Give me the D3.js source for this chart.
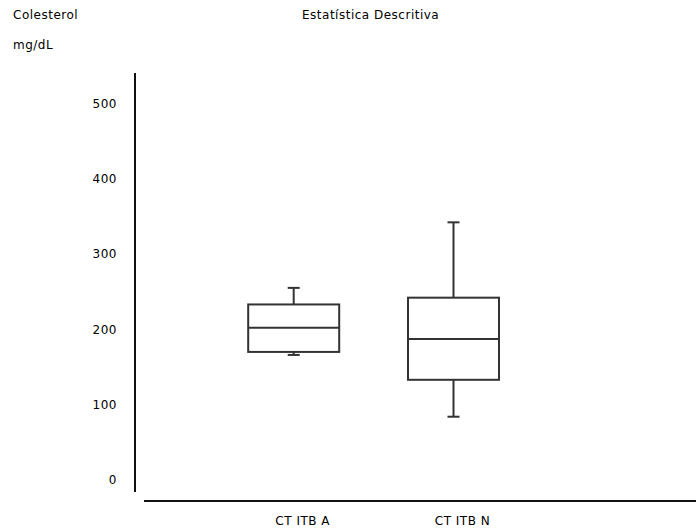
<!DOCTYPE html>
<html>
<head>
<meta charset="utf-8">
<script src="https://cdn.jsdelivr.net/npm/d3@7"></script>
<style>
  body { margin: 0; background: #fff; }
  text { font-family: "DejaVu Sans", sans-serif; font-size: 12px; letter-spacing: 0.5px; fill: #000; }
</style>
</head>
<body>
<div id="chart"></div>
<script>
// data
const categories = ["CT ITB A", "CT ITB N"];
const mins    = [166, 84];
const q1s     = [170, 133];
const medians = [202, 187];
const q3s     = [233, 242];
const maxs    = [255, 342];
const yTicks  = [0, 100, 200, 300, 400, 500];

const width = 696, height = 532;

const svg = d3.select("#chart")
              .append("svg")
              .attr("width", width)
              .attr("height", height);

const y = d3.scaleLinear()
            .domain([0, 500])
            .range([480, 103.3]);

const x = d3.scalePoint()
            .domain(categories)
            .range([293.7, 453.5]);

const boxW = 91, capW = 12;

// titles
svg.append("text").attr("x", 13).attr("y", 19).text("Colesterol");
svg.append("text").attr("x", 13).attr("y", 49).text("mg/dL");
svg.append("text").attr("x", 302).attr("y", 19).text("Estatística Descritiva");

// y axis line + labels
svg.append("line")
   .attr("x1", 135).attr("x2", 135)
   .attr("y1", 73).attr("y2", 492)
   .attr("stroke", "#111").attr("stroke-width", 2);

svg.selectAll(".ytick")
   .data(yTicks)
   .enter().append("text")
   .attr("class", "ytick")
   .attr("x", 117)
   .attr("y", d => y(d))
   .attr("dy", "0.35em")
   .attr("text-anchor", "end")
   .text(d => d);

// x axis line + labels
svg.append("line")
   .attr("x1", 144).attr("x2", 696)
   .attr("y1", 501).attr("y2", 501)
   .attr("stroke", "#111").attr("stroke-width", 2);

svg.selectAll(".xlab")
   .data(categories)
   .enter().append("text")
   .attr("class", "xlab")
   .attr("x", d => x(d) + 9)
   .attr("y", 521)
   .attr("dy", "0.35em")
   .attr("text-anchor", "middle")
   .text(d => d);

// boxes
const rows = categories.map((c, i) => ({
	cat: c, min: mins[i], q1: q1s[i], med: medians[i], q3: q3s[i], max: maxs[i]
}));

const g = svg.selectAll(".box")
             .data(rows)
             .enter().append("g")
             .attr("class", "box")
             .attr("stroke", "#333")
             .attr("stroke-width", 2)
             .attr("fill", "none");

// whiskers
g.append("line")
 .attr("x1", d => x(d.cat)).attr("x2", d => x(d.cat))
 .attr("y1", d => y(d.q3)).attr("y2", d => y(d.max));
g.append("line")
 .attr("x1", d => x(d.cat)).attr("x2", d => x(d.cat))
 .attr("y1", d => y(d.q1)).attr("y2", d => y(d.min));
// caps
g.append("line")
 .attr("x1", d => x(d.cat) - capW / 2).attr("x2", d => x(d.cat) + capW / 2)
 .attr("y1", d => y(d.max)).attr("y2", d => y(d.max));
g.append("line")
 .attr("x1", d => x(d.cat) - capW / 2).attr("x2", d => x(d.cat) + capW / 2)
 .attr("y1", d => y(d.min)).attr("y2", d => y(d.min));
// box
g.append("rect")
 .attr("x", d => x(d.cat) - boxW / 2)
 .attr("width", boxW)
 .attr("y", d => y(d.q3))
 .attr("height", d => y(d.q1) - y(d.q3))
 .attr("fill", "#fff");
// median
g.append("line")
 .attr("x1", d => x(d.cat) - boxW / 2).attr("x2", d => x(d.cat) + boxW / 2)
 .attr("y1", d => y(d.med)).attr("y2", d => y(d.med));
</script>
</body>
</html>
